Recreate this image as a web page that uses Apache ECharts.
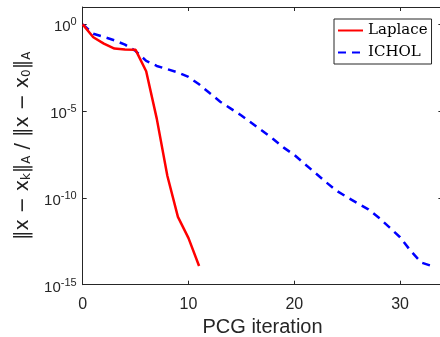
<!DOCTYPE html>
<html>
<head>
<meta charset="utf-8">
<script src="https://cdn.jsdelivr.net/npm/echarts@6/dist/echarts.min.js"></script>
<style>
html,body{margin:0;padding:0;background:#fff;}
#chart{width:440px;height:337px;}
</style>
</head>
<body>
<div id="chart"></div>
<script>
// Data
const laplaceIter = [0,1,2,3,4,5,6,7,8,9,10,11];
const laplaceErr = [1, 1.8e-1, 7.8e-2, 4.0e-2, 3.6e-2, 3.4e-2, 2.0e-3, 3.7e-6, 1.9e-9, 8.1e-12, 4.8e-13, 1.2e-14];
const icholIter = [0,1,2,3,4,5,6,7,8,9,10,11,12,13,14,15,16,17,18,19,20,21,22,23,24,25,26,27,28,29,30,31,32,33];
const icholErr = [1, 2.9e-1, 1.9e-1, 1.2e-1, 6.8e-2, 2.9e-2, 7.9e-3, 4.0e-3, 2.6e-3, 1.7e-3, 9.3e-4, 3.5e-4, 1.1e-4, 3.5e-5, 1.4e-5, 5.6e-6, 2.0e-6, 7.1e-7, 2.5e-7, 7.9e-8, 3.0e-8, 8.9e-9, 2.7e-9, 8.1e-10, 2.6e-10, 1.1e-10, 4.9e-11, 2.2e-11, 7.2e-12, 2.0e-12, 5.4e-13, 8.9e-14, 1.9e-14, 1.2e-14];
const xTicks = [0, 10, 20, 30];
const yTickExponents = [0, -5, -10, -15];
const seriesNames = ['Laplace', 'ICHOL'];
const xLabel = 'PCG iteration';

const axisColor = '#262626';
const chart = echarts.init(document.getElementById('chart'), null, {renderer: 'canvas'});

function yFmt(v) {
  const e = Math.round(Math.log10(v));
  if (yTickExponents.indexOf(e) < 0) return '';
  return '{b|10}{s|' + (e < 0 ? '-' + (-e) : e) + '}';
}
function xFmt(v) {
  return xTicks.indexOf(v) >= 0 ? String(v) : '';
}

const yRich = {
  b: {fontSize: 15, lineHeight: 15, fontFamily: 'Liberation Sans', color: axisColor, verticalAlign: 'bottom'},
  s: {fontSize: 11, lineHeight: 11, fontFamily: 'Liberation Sans', color: axisColor, verticalAlign: 'bottom', padding: [0, 0, 7, 0]}
};

const nameRich = {
  m: {fontSize: 19, lineHeight: 22, fontFamily: 'DejaVu Sans', color: '#222', verticalAlign: 'bottom'},
  s: {fontSize: 12, lineHeight: 12, fontFamily: 'DejaVu Sans', color: '#222', verticalAlign: 'bottom', padding: [10, 0, 0, 0]}
};

const option = {
  animation: false,
  backgroundColor: '#fff',
  grid: {left: 82.7, top: 7, right: -2.4, bottom: 52.3, containLabel: false, outerBoundsMode: 'none'},
  legend: {
    orient: 'vertical', left: 334, top: 19,
    itemWidth: 25, itemHeight: 12, itemGap: 7,
    padding: [4, 4, 4, 3],
    borderColor: axisColor, borderWidth: 1, backgroundColor: '#fff',
    itemStyle: {opacity: 0},
    textStyle: {fontFamily: 'DejaVu Serif', fontSize: 15, color: '#000', lineHeight: 15},
    data: seriesNames
  },
  xAxis: [{
    type: 'value', min: 0, max: 34, interval: 10, position: 'bottom',
    name: xLabel, nameLocation: 'middle', nameGap: 33,
    nameTextStyle: {fontFamily: 'Liberation Sans', fontSize: 20, color: axisColor},
    axisLine: {show: true, lineStyle: {color: axisColor, width: 1}},
    axisTick: {show: true, inside: true, length: 4, lineStyle: {color: axisColor}},
    axisLabel: {formatter: xFmt, fontFamily: 'Liberation Sans', fontSize: 16, color: axisColor, margin: 12},
    splitLine: {show: false}
  }, {
    type: 'value', min: 0, max: 34, interval: 10, position: 'top',
    axisLine: {show: true, onZero: false, lineStyle: {color: axisColor, width: 1}},
    axisTick: {show: true, inside: true, length: 4, lineStyle: {color: axisColor}},
    axisLabel: {show: false},
    splitLine: {show: false}
  }],
  yAxis: [{
    type: 'log', logBase: 10, min: 1e-15, max: 10, interval: 5, position: 'left',
    name: '{m|‖x − x}{s|k}{m|‖}{s|A}{m| / ‖x − x}{s|0}{m|‖}{s|A}',
    nameLocation: 'middle', nameGap: 50, nameRotate: 90,
    nameTextStyle: {rich: nameRich},
    axisLine: {show: true, onZero: false, lineStyle: {color: axisColor, width: 1}},
    axisTick: {show: true, inside: true, length: 4, lineStyle: {color: axisColor}},
    axisLabel: {formatter: yFmt, rich: yRich, margin: 6, padding: [6, 0, 0, 0]},
    splitLine: {show: false}
  }, {
    type: 'log', logBase: 10, min: 1e-15, max: 10, interval: 5, position: 'right',
    axisLine: {show: true, onZero: false, lineStyle: {color: axisColor, width: 1}},
    axisTick: {show: true, inside: true, length: 4, lineStyle: {color: axisColor}},
    axisLabel: {show: false},
    splitLine: {show: false}
  }],
  series: [{
    name: seriesNames[0], type: 'line', xAxisIndex: 0, yAxisIndex: 0,
    data: laplaceIter.map((x, i) => [x, laplaceErr[i]]),
    symbol: 'none', showSymbol: false,
    lineStyle: {color: '#ff0000', width: 2.5},
    itemStyle: {color: '#ff0000'},
    z: 3
  }, {
    name: seriesNames[1], type: 'line', xAxisIndex: 0, yAxisIndex: 0,
    data: icholIter.map((x, i) => [x, icholErr[i]]),
    symbol: 'none', showSymbol: false,
    lineStyle: {color: '#0000ff', width: 2.5, type: [8, 6]},
    itemStyle: {color: '#0000ff'},
    z: 2
  }]
};
chart.setOption(option);
</script>
</body>
</html>
